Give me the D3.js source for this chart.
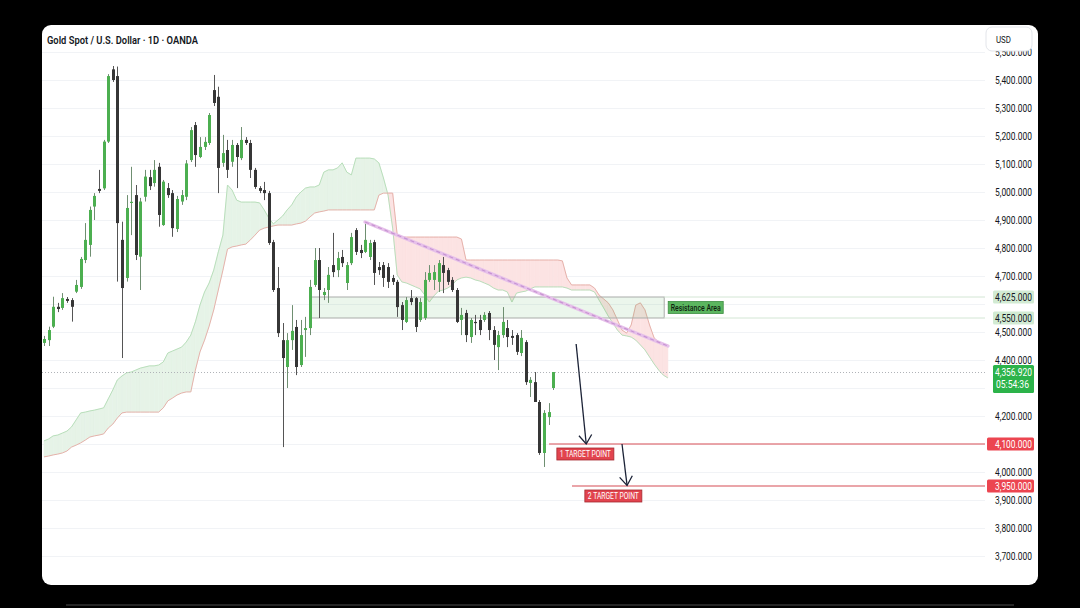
<!DOCTYPE html>
<html><head><meta charset="utf-8">
<script src="https://cdn.jsdelivr.net/npm/d3@7"></script>
<style>html,body{margin:0;padding:0;background:#000;}svg{display:block}</style>
</head><body>
<svg id="c" width="1080" height="608"></svg>
<script>
// ---------------- DATA ----------------
const title = "Gold Spot / U.S. Dollar · 1D · OANDA";
const currency = "USD";
const firstBarDate = "2026-0108";
const lastAxisDate = "2026-10-30";
const closedDays = ["2026-04-03"];

const openP = [4461,4471,4519,4590,4586,4618,4614,4644,4661,4757,
 4811,4948,5011,5013,5180,5438,5414,4829,4693,4961,
 4989,4769,4983,5053,5032,5090,4882,5014,4996,4868,
 4966,4983,5114,5239,5125,5161,5175,5364,5340,5104,
 5150,5108,5168,5121,5186,5175,5079,5014,5007,4996,
 4821,4657,4471,4375,4471,4518,4382,4507,4514,4668,
 4757,4632,4650,4739,4721,4768,4675,4746,4864,4793,
 4786,4768,4821,4732,4739,4732,4693,4679,4596,4536,
 4621,4621,4543,4550,4686,4686,4679,4739,4721,4686,
 4650,4543,4568,4482,4536,4543,4543,4568,4507,4446,
 4489,4514,4486,4489,4425,4464,4318,4321,4250,4068,
 4196,4300];
const highP = [4486,4519,4626,4604,4639,4625,4621,4686,4768,4889,
 4948,4996,5079,5186,5421,5450,5448,4894,4989,5090,
 5025,4979,5079,5079,5114,5104,5043,5032,5007,4986,
 5007,5114,5232,5250,5196,5196,5282,5418,5376,5204,
 5186,5186,5175,5232,5196,5186,5086,5021,5036,5004,
 4829,4732,4532,4496,4596,4543,4543,4554,4686,4800,
 4800,4657,4732,4854,4786,4793,4750,4854,4871,4811,
 4893,4829,4829,4750,4750,4746,4704,4686,4607,4625,
 4650,4625,4621,4714,4739,4739,4757,4768,4729,4696,
 4657,4586,4579,4550,4561,4561,4571,4575,4521,4504,
 4589,4543,4507,4496,4507,4471,4339,4357,4257,4221,
 4246,4357];
const lowP = [4450,4450,4514,4571,4579,4604,4537,4639,4654,4746,
 4769,4900,4996,5007,5175,5393,4680,4407,4680,4846,
 4757,4650,4966,5007,5019,4876,4879,4979,4840,4857,
 4954,4971,5107,5090,5121,5150,5168,5307,4996,5090,
 5050,5090,5014,5114,5168,5050,5011,4996,4971,4811,
 4643,4482,4089,4300,4436,4346,4375,4411,4489,4661,
 4550,4614,4604,4696,4696,4732,4650,4739,4775,4764,
 4782,4757,4668,4704,4661,4657,4668,4554,4507,4532,
 4596,4500,4536,4543,4679,4650,4643,4639,4668,4643,
 4532,4489,4464,4461,4489,4489,4536,4471,4400,4364,
 4479,4446,4454,4418,4414,4311,4268,4250,4061,4018,
 4168,4293];
const closeP = [4475,4507,4590,4582,4621,4611,4590,4668,4761,4829,
 4936,4986,5004,5180,5414,5400,4889,4657,4943,4965,
 4775,4966,5055,5021,5079,4918,5037,4989,4871,4975,
 4989,5102,5221,5132,5161,5179,5275,5318,5086,5139,
 5079,5168,5125,5186,5175,5079,5018,5004,4996,4818,
 4650,4496,4407,4471,4504,4375,4489,4514,4661,4757,
 4650,4643,4704,4714,4764,4746,4739,4839,4786,4782,
 4829,4818,4711,4721,4693,4679,4679,4589,4543,4614,
 4607,4518,4607,4686,4711,4714,4746,4711,4679,4650,
 4536,4561,4489,4543,4532,4507,4561,4507,4454,4489,
 4536,4482,4479,4429,4479,4321,4329,4250,4068,4211,
 4214,4357];

// Ichimoku cloud (leading spans, already shifted forward)
const spanA = [4111,4118,4129,4132,4139,4146,4161,4186,4211,4214,
 4218,4221,4225,4229,4261,4293,4329,4343,4354,4357,
 4364,4371,4375,4379,4379,4382,4393,4425,4432,4439,
 4446,4464,4489,4536,4596,4643,4675,4721,4786,4846,
 5025,5007,4971,4964,4964,4964,4964,4961,4936,4907,
 4886,4900,4914,4936,4954,4982,5000,5014,5018,5018,
 5025,5071,5079,5079,5086,5104,5071,5061,5121,5121,
 5121,5121,5118,5104,5050,4989,4871,4704,4679,4675,
 4668,4661,4654,4632,4607,4629,4646,4650,4657,4668,
 4686,4693,4696,4693,4686,4682,4675,4668,4657,4650,
 4650,4643,4607,4639,4643,4646,4654,4661,4661,4661,
 4661,4661,4661,4661,4657,4650,4650,4650,4650,4650,
 4643,4614,4586,4557,4532,4507,4489,4486,4482,4471,
 4454,4436,4411,4386,4364,4346,4336];
const spanB = [4054,4057,4061,4064,4068,4075,4089,4096,4104,4114,
 4125,4129,4132,4136,4157,4171,4193,4211,4214,4214,
 4214,4214,4214,4214,4214,4214,4229,4254,4264,4275,
 4282,4286,4286,4364,4429,4471,4521,4579,4650,4721,
 4796,4804,4807,4811,4814,4829,4846,4864,4871,4875,
 4879,4882,4882,4882,4882,4886,4889,4896,4911,4925,
 4929,4932,4936,4936,4936,4936,4936,4936,4936,4936,
 4936,4936,4936,4989,4996,4996,4996,4846,4839,4839,
 4839,4839,4839,4839,4839,4839,4839,4839,4839,4839,
 4839,4832,4757,4757,4757,4757,4757,4757,4757,4757,
 4757,4757,4757,4757,4757,4757,4757,4757,4757,4757,
 4757,4757,4757,4754,4693,4668,4668,4668,4668,4668,
 4657,4632,4618,4604,4579,4543,4507,4496,4525,4596,
 4604,4579,4525,4479,4464,4457,4454];

const priceTicks = [5500,5400,5300,5200,5100,5000,4900,4800,4700,4600,4500,4400,4300,4200,4100,4000,3900,3800,3700];
const lastPrice = 4356.92;
const countdown = "05:54:36";
const resistance = {label:"Resistance Area", lo:4550, hi:4625, fromBar:58.2, toBar:135.2};
const trendLine = {bar0:70, p0:4893, bar1:136, p1:4450};
const targets = [
  {label:"1 TARGET POINT", price:4100, fromBar:110.1, labelBar:111.8, arrowFrom:[116.0,4457], arrowTo:[118.2,4100]},
  {label:"2 TARGET POINT", price:3950, fromBar:115.1, labelBar:117.9, arrowFrom:[126.0,4100], arrowTo:[127.1,3952]}
];

// ---------------- BUILD ----------------
const parse = d3.timeParse("%Y-%m%d");
const fmtDay = d3.timeFormat("%Y-%m-%d");
const days = [];
for (let d = parse(firstBarDate); d <= parse(lastAxisDate); d = d3.timeDay.offset(d,1)) {
  const wd = d.getDay();
  if (wd===0 || wd===6) continue;
  if (closedDays.includes(fmtDay(d))) continue;
  days.push(new Date(d));
}
const bars = openP.map((o,i)=>({i, o, h:highP[i], l:lowP[i], c:closeP[i]}));

const L=42, R=985, T=25, B=562;
const x = d3.scaleLinear().domain([0,206]).range([44,989]);
const y = d3.scaleLinear().domain([3700,5400]).range([556,80]);

const svg = d3.select("#c");
svg.append("rect").attr("width",1080).attr("height",608).attr("fill","#000");
svg.append("rect").attr("x",42).attr("y",25).attr("width",996).attr("height",560).attr("rx",9).attr("fill","#fff");
svg.append("rect").attr("x",66).attr("y",604).attr("width",948).attr("height",2).attr("fill","#262626");

svg.append("defs").append("clipPath").attr("id","plot")
  .append("rect").attr("x",L).attr("y",T).attr("width",R-L).attr("height",B-T);
const plot = svg.append("g").attr("clip-path","url(#plot)");

// month ticks
const monthTicks = [];
days.forEach((d,i)=>{ if(i>0 && d.getMonth()!==days[i-1].getMonth()) monthTicks.push({i, label:d3.timeFormat("%b")(d)}); });

// grid
plot.append("g").selectAll("line").data(priceTicks).join("line")
  .attr("x1",L).attr("x2",R).attr("y1",d=>Math.round(y(d))+0.5).attr("y2",d=>Math.round(y(d))+0.5)
  .attr("stroke","#f1f3f6").attr("stroke-width",1);
plot.append("g").selectAll("line").data(monthTicks).join("line")
  .attr("x1",d=>Math.round(x(d.i))+0.5).attr("x2",d=>Math.round(x(d.i))+0.5).attr("y1",T).attr("y2",B)
  .attr("stroke","#f1f3f6").attr("stroke-width",1);

// cloud
const greenPolys=[], redPolys=[];
for (let i=0;i<spanA.length-1;i++){
  const a0=spanA[i], a1=spanA[i+1], b0=spanB[i], b1=spanB[i+1];
  const d0=a0-b0, d1=a1-b1;
  if (d0>=0 && d1>=0) greenPolys.push([[i,a0],[i+1,a1],[i+1,b1],[i,b0]]);
  else if (d0<=0 && d1<=0) redPolys.push([[i,a0],[i+1,a1],[i+1,b1],[i,b0]]);
  else {
    const t=d0/(d0-d1), xi=i+t, yi=a0+(a1-a0)*t;
    (d0>0?greenPolys:redPolys).push([[i,a0],[xi,yi],[i,b0]]);
    (d1>0?greenPolys:redPolys).push([[xi,yi],[i+1,a1],[i+1,b1]]);
  }
}
const poly = p => "M"+p.map(q=>x(q[0])+","+y(q[1])).join("L")+"Z";
plot.append("g").selectAll("path").data(greenPolys).join("path").attr("d",poly)
  .attr("fill","#e6f3e7").attr("stroke","#e6f3e7").attr("stroke-width",0.6);
plot.append("g").selectAll("path").data(redPolys).join("path").attr("d",poly)
  .attr("fill","#fce3e3").attr("stroke","#fce3e3").attr("stroke-width",0.6);
const lineGen = d3.line().x((d,i)=>x(i)).y(d=>y(d));
plot.append("path").attr("d",lineGen(spanA)).attr("fill","none").attr("stroke","#b9dfbb").attr("stroke-width",1);
plot.append("path").attr("d",lineGen(spanB)).attr("fill","none").attr("stroke","#e6b2ab").attr("stroke-width",1);

// resistance zone
const rz = plot.append("g");
rz.append("rect").attr("x",x(resistance.fromBar)).attr("y",y(resistance.hi))
  .attr("width",x(resistance.toBar)-x(resistance.fromBar)).attr("height",y(resistance.lo)-y(resistance.hi))
  .attr("fill","rgba(76,175,80,0.11)").attr("stroke","#a9aca9").attr("stroke-width",1);
rz.selectAll("line").data([resistance.hi,resistance.lo]).join("line")
  .attr("x1",x(resistance.toBar)).attr("x2",R).attr("y1",d=>y(d)).attr("y2",d=>y(d))
  .attr("stroke","#d3e6d4").attr("stroke-width",1);

// current price dotted line
plot.append("line").attr("x1",L).attr("x2",R).attr("y1",Math.round(y(lastPrice))+0.5).attr("y2",Math.round(y(lastPrice))+0.5)
  .attr("stroke","#b0b3b8").attr("stroke-width",1).attr("stroke-dasharray","1,2");

// candles
const up = "#4caf50", dn = "#363636";
const cg = plot.append("g");
cg.selectAll("line").data(bars).join("line")
  .attr("x1",d=>Math.round(x(d.i))+0.5).attr("x2",d=>Math.round(x(d.i))+0.5)
  .attr("y1",d=>y(d.h)).attr("y2",d=>y(d.l))
  .attr("stroke",d=>d.c>=d.o?"#6f8f71":"#555").attr("stroke-width",1);
cg.selectAll("rect").data(bars).join("rect")
  .attr("x",d=>Math.round(x(d.i))-1).attr("width",3)
  .attr("y",d=>y(Math.max(d.o,d.c)))
  .attr("height",d=>Math.max(1.2, Math.abs(y(d.o)-y(d.c))))
  .attr("fill",d=>d.c>=d.o?up:dn);

// trend line
const tl = plot.append("g");
tl.append("line").attr("x1",x(trendLine.bar0)).attr("y1",y(trendLine.p0)).attr("x2",x(trendLine.bar1)).attr("y2",y(trendLine.p1))
  .attr("stroke","#e6c0ea").attr("stroke-width",3.4).attr("stroke-linecap","round");
tl.append("line").attr("x1",x(trendLine.bar0)).attr("y1",y(trendLine.p0)).attr("x2",x(trendLine.bar1)).attr("y2",y(trendLine.p1))
  .attr("stroke","#c794d2").attr("stroke-width",1.2).attr("stroke-dasharray","4,3");

// targets
const tg = plot.append("g");
targets.forEach(t=>{
  tg.append("line").attr("x1",x(t.fromBar)).attr("x2",R).attr("y1",y(t.price)).attr("y2",y(t.price))
    .attr("stroke","#e3878d").attr("stroke-width",1.3);
  const fx=x(t.arrowFrom[0]), fy=y(t.arrowFrom[1]), tx=x(t.arrowTo[0]), ty=y(t.arrowTo[1]);
  tg.append("line").attr("x1",fx).attr("y1",fy).attr("x2",tx).attr("y2",ty).attr("stroke","#1b2236").attr("stroke-width",1.3);
  const ang=Math.atan2(ty-fy,tx-fx), len=11, spread=0.62;
  tg.append("path").attr("d",`M${tx-len*Math.cos(ang-spread)},${ty-len*Math.sin(ang-spread)}L${tx},${ty}L${tx-len*Math.cos(ang+spread)},${ty-len*Math.sin(ang+spread)}`)
    .attr("fill","none").attr("stroke","#1b2236").attr("stroke-width",1.3);
  const lx=x(t.labelBar), ly=y(t.price)+4;
  tg.append("rect").attr("x",lx).attr("y",ly).attr("width",57).attr("height",12)
    .attr("fill","#e2444e").attr("stroke","#a52a31").attr("stroke-width",0.8);
  tg.append("text").attr("x",lx+28.5).attr("y",ly+9.2).attr("text-anchor","middle")
    .attr("font-family","Roboto, 'Liberation Sans', sans-serif").attr("font-size",9.5).attr("fill","#fff")
    .attr("textLength",51).attr("lengthAdjust","spacingAndGlyphs").text(t.label);
});

// resistance label
const rlx = x(resistance.toBar)+4, rly = y((resistance.lo+resistance.hi)/2)-6;
svg.append("rect").attr("x",rlx).attr("y",rly).attr("width",55).attr("height",12)
  .attr("fill","#5bb65f").attr("stroke","#3e8e42").attr("stroke-width",0.8);
svg.append("text").attr("x",rlx+27.5).attr("y",rly+9.2).attr("text-anchor","middle")
  .attr("font-family","Roboto, 'Liberation Sans', sans-serif").attr("font-size",9.5).attr("font-weight",500).attr("fill","#0f1f10")
  .attr("textLength",50).attr("lengthAdjust","spacingAndGlyphs").text(resistance.label);

// price axis labels (those hidden behind the price tags are not drawn)
const fmt = d3.format(",.3f");
const axisFont = "Roboto, 'Liberation Sans', sans-serif";
const tagPrices = [resistance.hi, resistance.lo, lastPrice, ...targets.map(t=>t.price)];
const visibleTicks = priceTicks.filter(p => tagPrices.every(q => Math.abs(y(p)-y(q)) > 9 && !(q===lastPrice && y(p)>y(q)-9 && y(p)<y(q)+26)));
svg.append("g").selectAll("text").data(visibleTicks).join("text")
  .attr("x",995).attr("y",d=>y(d)+3.5).attr("font-family",axisFont).attr("font-size",10).attr("fill","#131722")
  .attr("textLength",37).attr("lengthAdjust","spacingAndGlyphs").text(d=>fmt(d));

function axisTag(price, bg, fg, x0, lines, h){
  const cy = y(price);
  svg.append("rect").attr("x",x0).attr("y",cy-h/2).attr("width",1034-x0).attr("height",h).attr("rx",1.5).attr("fill",bg);
  lines.forEach((s,k)=>{
    svg.append("text").attr("x",995).attr("y",cy-h/2+10.3+k*12.5).attr("font-family",axisFont).attr("font-size",10)
      .attr("fill",fg).attr("textLength",37).attr("lengthAdjust","spacingAndGlyphs").text(s);
  });
}
axisTag(resistance.hi, "#d2ebd3", "#131722", 993, [fmt(resistance.hi)], 13);
axisTag(resistance.lo, "#d2ebd3", "#131722", 993, [fmt(resistance.lo)], 13);
{
  const cy = y(lastPrice);
  svg.append("rect").attr("x",993).attr("y",cy-7).attr("width",41).attr("height",28).attr("rx",1.5).attr("fill","#2cb34a");
  svg.append("text").attr("x",995).attr("y",cy+3.5).attr("font-family",axisFont).attr("font-size",10).attr("fill","#fff")
    .attr("textLength",37).attr("lengthAdjust","spacingAndGlyphs").text(fmt(lastPrice));
  svg.append("text").attr("x",996).attr("y",cy+16).attr("font-family",axisFont).attr("font-size",10).attr("fill","#fff")
    .attr("textLength",33).attr("lengthAdjust","spacingAndGlyphs").text(countdown);
}
targets.forEach(t=>axisTag(t.price, "#ec4550", "#fff", 987, [fmt(t.price)], 13));

// time axis labels
svg.append("g").selectAll("text").data(monthTicks.filter(d=>x(d.i)<R-20)).join("text")
  .attr("x",d=>x(d.i)).attr("y",577).attr("text-anchor","middle")
  .attr("font-family",axisFont).attr("font-size",10).attr("fill","#131722")
  .text(d=>d.label)
  .each(function(){ const w=this.getComputedTextLength(); d3.select(this).attr("textLength",w*0.8).attr("lengthAdjust","spacingAndGlyphs"); });

// USD box
svg.append("rect").attr("x",986).attr("y",27).attr("width",46).attr("height",24).attr("rx",6)
  .attr("fill","#fff").attr("stroke","#e3e5ea").attr("stroke-width",1);
svg.append("text").attr("x",1003.5).attr("y",43).attr("text-anchor","middle").attr("font-family",axisFont)
  .attr("font-size",9.5).attr("fill","#131722").attr("textLength",15).attr("lengthAdjust","spacingAndGlyphs").text(currency);

// title
svg.append("text").attr("x",47).attr("y",44).attr("font-family",axisFont).attr("font-weight",600)
  .attr("font-size",10.5).attr("fill","#131722").attr("textLength",151).attr("lengthAdjust","spacingAndGlyphs").text(title);
</script>
</body></html>
